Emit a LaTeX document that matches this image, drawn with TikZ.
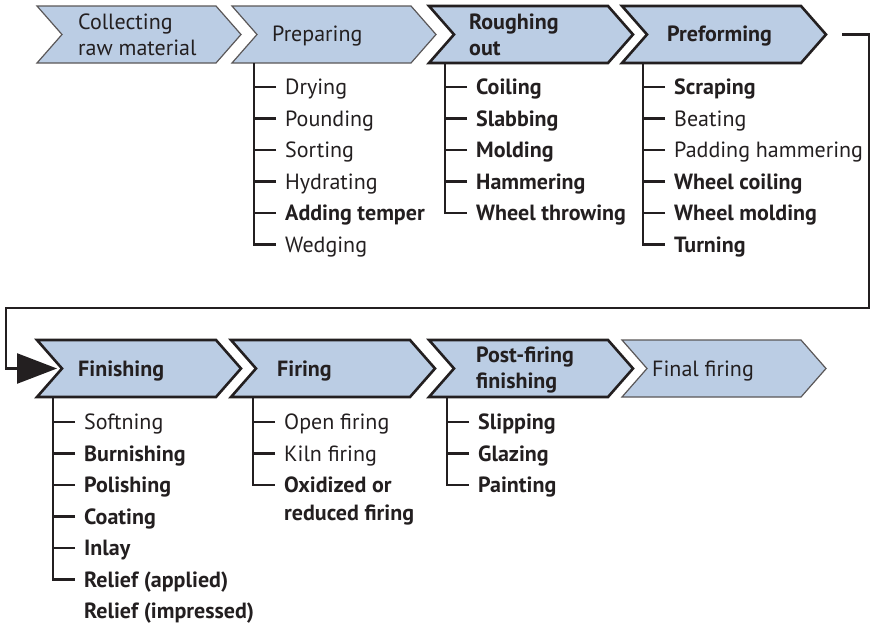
\documentclass[tikz,border=0pt]{standalone}
\usepackage{fontspec}
\setmainfont{PT Sans}
\usetikzlibrary{arrows.meta}

\definecolor{stagefill}{RGB}{187,205,228}
\definecolor{ink}{RGB}{35,31,32}

% one chevron: style, name, left x, top y
\newcommand{\chevron}[4]{%
  \draw[#1] (#3,#4) -- ++(179,0) -- ++(25,28.5) -- ++(-25,28.5)
    -- ++(-179,0) -- ++(25,-28.5) -- cycle;
  \coordinate (#2-tip) at (#3+204,#4+28.5);
  \coordinate (#2-in) at (#3+20,#4+28.5);
}

\begin{document}
\begin{tikzpicture}[x=1pt,y=-1pt,
  stage/.style={fill=stagefill,draw=ink!75,line width=1.2pt},
  stagebold/.style={fill=stagefill,draw=ink,line width=2.6pt},
  stagetext/.style={anchor=base west,inner sep=0pt,align=left,text=ink,
    font=\fontsize{22}{26}\selectfont},
  stagetextbold/.style={stagetext,font=\fontsize{22}{26}\selectfont\bfseries},
  task/.style={anchor=west,inner xsep=9pt,inner ysep=0pt,text height=15.4pt,
    text depth=0pt,text=ink,font=\fontsize{22}{28}\selectfont},
  taskbold/.style={task,font=\fontsize{22}{28}\selectfont\bfseries},
  branch/.style={draw=ink,line width=2.5pt},
  link/.style={draw=ink,line width=2.5pt,-{Triangle[length=40pt,width=30pt]}}]

  \useasboundingbox (0,0) rectangle (872,624);

  % stages
  \chevron{stage}{coll}{37}{6}
  \chevron{stage}{prep}{232}{6}
  \chevron{stagebold}{rough}{429}{6}
  \chevron{stagebold}{pref}{622}{6}
  \chevron{stagebold}{fin}{37}{340}
  \chevron{stagebold}{fire}{231}{340}
  \chevron{stagebold}{post}{429}{340}
  \chevron{stage}{final}{622}{340}

  % two-line texts sit on their last baseline
  \node[stagetext] (tcoll) at (78,55) {Collecting\\raw material};
  \node[stagetext] (tprep) at (272,41) {Preparing};
  \node[stagetextbold] (trough) at (469,55) {Roughing\\out};
  \node[stagetextbold] (tpref) at (667,41) {Preforming};
  \node[stagetextbold] (tfin) at (78,376) {Finishing};
  \node[stagetextbold] (tfire) at (277,376) {Firing};
  \node[stagetextbold] (tpost) at (476,388) {Post-firing\\finishing};
  \node[stagetext] (tfinal) at (652,376) {Final firing};

  % preparing
  \node[task] (dry) at (276,87) {Drying};
  \node[task] (pound) at (276,118.5) {Pounding};
  \node[task] (sort) at (276,150) {Sorting};
  \node[task] (hydr) at (276,181.5) {Hydrating};
  \node[taskbold] (temp) at (276,213) {Adding temper};
  \node[task] (wedg) at (276,244.5) {Wedging};

  % roughing out
  \node[taskbold] (coil) at (467,87) {Coiling};
  \node[taskbold] (slab) at (467,118.5) {Slabbing};
  \node[taskbold] (mold) at (467,150) {Molding};
  \node[taskbold] (hamm) at (467,181.5) {Hammering};
  \node[taskbold] (throw) at (467,213) {Wheel throwing};

  % preforming
  \node[taskbold] (scrap) at (665,87) {Scraping};
  \node[task] (beat) at (665,118.5) {Beating};
  \node[task] (padd) at (665,150) {Padding hammering};
  \node[taskbold] (wcoil) at (665,181.5) {Wheel coiling};
  \node[taskbold] (wmold) at (665,213) {Wheel molding};
  \node[taskbold] (turn) at (665,244.5) {Turning};

  % finishing
  \node[task] (soft) at (75,422) {Softning};
  \node[taskbold] (burn) at (75,453.5) {Burnishing};
  \node[taskbold] (pol) at (75,485) {Polishing};
  \node[taskbold] (coat) at (75,516.5) {Coating};
  \node[taskbold] (inlay) at (75,548) {Inlay};
  \node[taskbold] (rapp) at (75,579.5) {Relief (applied)};
  \node[taskbold] (rimp) at (75,611) {Relief (impressed)};

  % firing
  \node[task] (open) at (275,422) {Open firing};
  \node[task] (kiln) at (275,453.5) {Kiln firing};
  \node[taskbold] (oxid) at (275,485)
    {\vtop{\hbox{Oxidized or}\hbox{reduced firing}}};

  % post-firing finishing
  \node[taskbold] (slip) at (469,422) {Slipping};
  \node[taskbold] (glaz) at (469,453.5) {Glazing};
  \node[taskbold] (paint) at (469,485) {Painting};

  % branches
  \draw[branch] (254,63) |- (wedg.west);
  \foreach \n in {dry,pound,sort,hydr,temp}
    \draw[branch] (\n.west) -- ++(-22,0);
  \draw[branch] (445,63) |- (throw.west);
  \foreach \n in {coil,slab,mold,hamm}
    \draw[branch] (\n.west) -- ++(-22,0);
  \draw[branch] (643,63) |- (turn.west);
  \foreach \n in {scrap,beat,padd,wcoil,wmold}
    \draw[branch] (\n.west) -- ++(-22,0);
  \draw[branch] (53,397) |- (rapp.west);
  \foreach \n in {soft,burn,pol,coat,inlay}
    \draw[branch] (\n.west) -- ++(-22,0);
  \draw[branch] (253,397) |- (oxid.west);
  \foreach \n in {open,kiln}
    \draw[branch] (\n.west) -- ++(-22,0);
  \draw[branch] (447,397) |- (paint.west);
  \foreach \n in {slip,glaz}
    \draw[branch] (\n.west) -- ++(-22,0);

  % from preforming on to finishing
  \draw[link] (pref-tip) ++(16,0) -- ++(27,0) |- (6,308) |- (fin-in);
\end{tikzpicture}
\end{document}
